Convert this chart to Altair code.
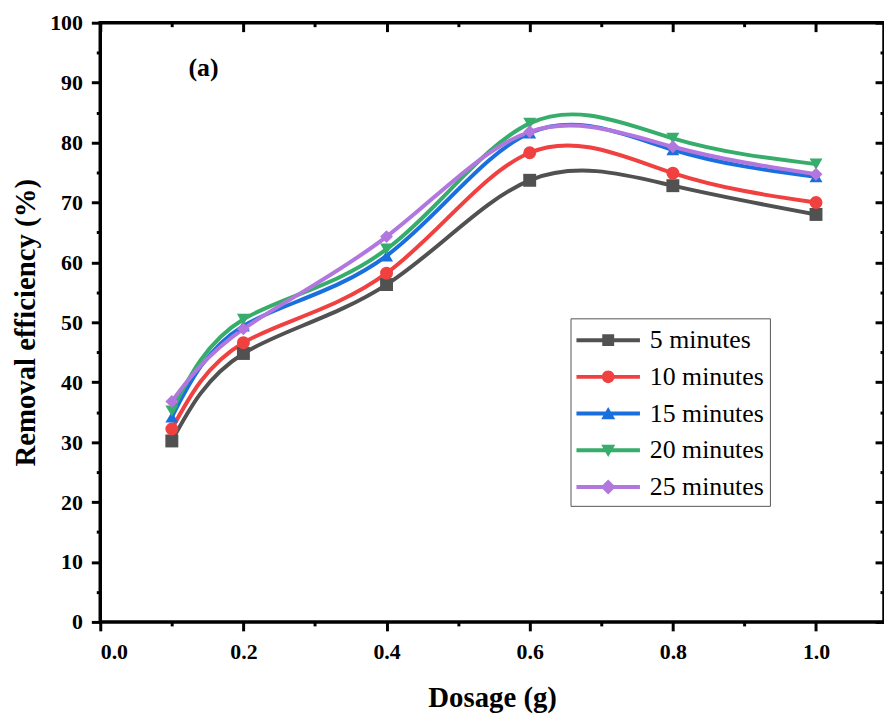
import altair as alt
import pandas as pd

dosage = [0.1, 0.2, 0.4, 0.6, 0.8, 1.0]
series = ["5 minutes", "10 minutes", "15 minutes", "20 minutes", "25 minutes"]
eff_5 = [30.2, 44.8, 56.3, 73.7, 72.8, 68.0]
eff_10 = [32.2, 46.6, 58.2, 78.3, 74.9, 70.0]
eff_15 = [34.2, 49.4, 61.1, 81.6, 78.8, 74.3]
eff_20 = [35.2, 50.5, 62.2, 83.2, 80.7, 76.4]
eff_25 = [36.8, 48.9, 64.3, 81.8, 79.3, 74.7]
colors = ["#515151", "#F14040", "#1A6FDF", "#37AD6B", "#B177DE"]
shapes = ["square", "circle", "triangle-up", "triangle-down", "diamond"]
legend_paths = [
    "M-1,-0.125H3V0.125H-1Z M0.625,-0.375H1.375V0.375H0.625Z",
    "M-1,-0.125H3V0.125H-1Z M0.6,0A0.4,0.4,0,1,1,1.4,0A0.4,0.4,0,1,1,0.6,0Z",
    "M-1,-0.125H3V0.125H-1Z M0.56,0.35L1,-0.42L1.44,0.35Z",
    "M-1,-0.125H3V0.125H-1Z M0.56,-0.35L1.44,-0.35L1,0.42Z",
    "M-1,-0.125H3V0.125H-1Z M1,-0.47L1.47,0L1,0.47L0.53,0Z",
]
x_ticks = [0.0, 0.1, 0.2, 0.3, 0.4, 0.5, 0.6, 0.7, 0.8, 0.9, 1.0]
x_major = [0.0, 0.2, 0.4, 0.6, 0.8, 1.0]
x_minor = [0.1, 0.3, 0.5, 0.7, 0.9]
y_ticks = [0, 5, 10, 15, 20, 25, 30, 35, 40, 45, 50, 55, 60, 65, 70, 75, 80, 85, 90, 95, 100]
y_major = [0, 10, 20, 30, 40, 50, 60, 70, 80, 90, 100]
y_minor = [5, 15, 25, 35, 45, 55, 65, 75, 85, 95]

rows = []
for name, vals in zip(series, [eff_5, eff_10, eff_15, eff_20, eff_25]):
    for d, v in zip(dosage, vals):
        rows.append({"Dosage": d, "Efficiency": v, "Series": name})
df = pd.DataFrame(rows)

FONT = "Liberation Serif"
xdom = [0, 1.095]
ydom = [0, 100]

xscale = alt.Scale(domain=xdom, nice=False, zero=False)
yscale = alt.Scale(domain=ydom, nice=False)
cscale = alt.Scale(domain=series, range=colors)

base = alt.Chart(df)

x_axis = alt.Axis(
    values=x_ticks,
    labelExpr="round(datum.value*10)%2==0 ? format(datum.value, '.1f') : ''",
    tickSize={"condition": {"test": "round(datum.value*10)%2==1", "value": 4}, "value": 9},
    tickWidth=3, tickColor="black", domain=False, grid=False,
    labelFont=FONT, labelFontWeight="bold", labelFontSize=22, labelColor="black",
    labelPadding=11,
    title="Dosage (g)", titleFont=FONT, titleFontWeight="bold", titleFontSize=29,
    titleColor="black", titlePadding=21,
)
y_axis = alt.Axis(
    values=y_ticks,
    labelExpr="datum.value % 10 == 0 ? format(datum.value, 'd') : ''",
    tickSize={"condition": {"test": "datum.value % 10 != 0", "value": 4}, "value": 9},
    tickWidth=3, tickColor="black", domain=False, grid=False,
    labelFont=FONT, labelFontWeight="bold", labelFontSize=22, labelColor="black",
    labelPadding=9,
    title="Removal efficiency (%)", titleFont=FONT, titleFontWeight="bold", titleFontSize=29,
    titleColor="black", titlePadding=9,
)

lines = base.mark_line(interpolate="natural", strokeWidth=4).encode(
    x=alt.X("Dosage:Q", scale=xscale, axis=x_axis),
    y=alt.Y("Efficiency:Q", scale=yscale, axis=y_axis),
    color=alt.Color("Series:N", scale=cscale, legend=None),
    detail="Series:N",
)

points = base.mark_point(filled=True, size=170, opacity=1).encode(
    x=alt.X("Dosage:Q", scale=xscale, axis=None),
    y=alt.Y("Efficiency:Q", scale=yscale, axis=None),
    color=alt.Color("Series:N", scale=cscale, legend=None),
    shape=alt.Shape("Series:N", scale=alt.Scale(domain=series, range=shapes), legend=None),
)

leg = dict(
    orient="none", legendX=474, legendY=298, title=None,
    padding=6, rowPadding=8, symbolSize=1024, symbolStrokeWidth=0,
    labelFont=FONT, labelFontSize=26, labelColor="black", labelOffset=42,
    labelFontWeight="normal",
    strokeColor="#555555", fillColor="white", labelLimit=300,
)
legend_layer = base.transform_filter("false").mark_point(filled=True, strokeWidth=0, opacity=1).encode(
    x=alt.X("Dosage:Q", scale=xscale, axis=None),
    y=alt.Y("Efficiency:Q", scale=yscale, axis=None),
    color=alt.Color("Series:N", scale=cscale, legend=alt.Legend(**leg)),
    shape=alt.Shape("Series:N", scale=alt.Scale(domain=series, range=legend_paths),
                    legend=alt.Legend(**leg)),
)

mirror_major = base.mark_point(opacity=0).encode(
    x=alt.X("Dosage:Q", scale=xscale, axis=alt.Axis(
        orient="top", values=x_major, labels=False, domain=False, grid=False,
        tickSize=9, tickWidth=3, tickColor="black", offset=-9, title=None)),
    y=alt.Y("Efficiency:Q", scale=yscale, axis=alt.Axis(
        orient="right", values=y_major, labels=False, domain=False, grid=False,
        tickSize=9, tickWidth=3, tickColor="black", offset=-9, title=None)),
)
mirror_minor = base.mark_point(opacity=0).encode(
    x=alt.X("Dosage:Q", scale=xscale, axis=alt.Axis(
        orient="top", values=x_minor, labels=False, domain=False, grid=False,
        tickSize=4, tickWidth=3, tickColor="black", offset=-4, title=None)),
    y=alt.Y("Efficiency:Q", scale=yscale, axis=alt.Axis(
        orient="right", values=y_minor, labels=False, domain=False, grid=False,
        tickSize=4, tickWidth=3, tickColor="black", offset=-4, title=None)),
)

label_df = pd.DataFrame({"label": ["(a)"]})
annot = alt.Chart(label_df).mark_text(
    font=FONT, fontWeight="bold", fontSize=26, color="black", align="center", baseline="middle"
).encode(text="label:N", x=alt.value(104), y=alt.value(46))

chart = alt.layer(lines, points, legend_layer, mirror_major, mirror_minor, annot).resolve_axis(
    x="independent", y="independent"
).resolve_scale(
    shape="independent", color="independent"
).properties(
    width=790, height=604,
    autosize=alt.AutoSizeParams(type="none"),
    padding={"left": 93, "top": 12, "right": 0, "bottom": 90},
).configure(
    background="white", font=FONT
).configure_view(
    stroke="black", strokeWidth=3.5
).configure_legend(
    labelFont=FONT, labelFontSize=26, labelColor="black"
)

chart.save("out.html", embed_options={"renderer": "svg", "actions": False})
